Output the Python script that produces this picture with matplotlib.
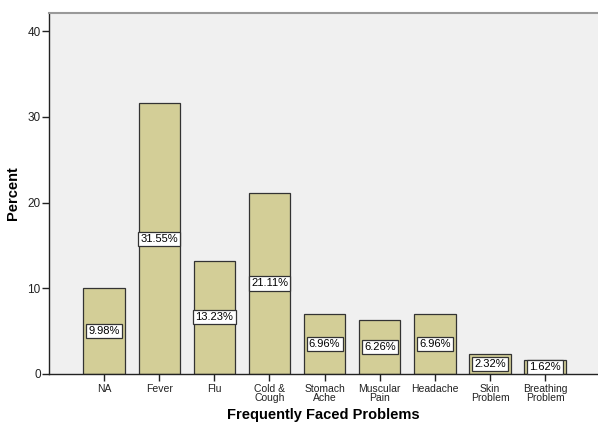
import matplotlib.pyplot as plt

plt.rcParams['font.family'] = ['Liberation Sans', 'DejaVu Sans']

# Share of respondents per problem
problems = ['NA', 'Fever', 'Flu', 'Cold &\nCough', 'Stomach\nAche', 'Muscular\nPain',
            'Headache', 'Skin\nProblem', 'Breathing\nProblem']
percent = [9.98, 31.55, 13.23, 21.11, 6.96, 6.26, 6.96, 2.32, 1.62]
y_ticks = [0, 10, 20, 30, 40]

fig = plt.figure(figsize=(5.98, 4.25), dpi=100)
ax = fig.add_axes([49 / 598, 51 / 425, 1 - 49 / 598, 361 / 425])
ax.set_facecolor('#f0f0f0')

x = list(range(len(problems)))
ax.bar(x, percent, width=0.75, color='#d3ce97', edgecolor='#333333', linewidth=0.9, zorder=2)

# value labels sit at half the bar height
for xi, v in zip(x, percent):
    ax.text(xi, v / 2, f'{v:.2f}%', ha='center', va='center', fontsize=8, zorder=3,
            bbox=dict(boxstyle='square,pad=0.2', facecolor='white', edgecolor='#333333', linewidth=0.9))

ax.set_xlim(-1.0, 8.96)
ax.set_ylim(0, 42.1)
ax.set_xticks(x)
ax.set_xticklabels(problems, fontsize=7.5, linespacing=0.9)
ax.set_yticks(y_ticks)
ax.tick_params(axis='y', labelsize=8.5, length=5, width=1, pad=1, colors='#222222')
ax.tick_params(axis='x', length=5, width=1, pad=2, colors='#222222')

for side in ['left', 'bottom']:
    ax.spines[side].set_color('#222222')
    ax.spines[side].set_linewidth(1)
ax.spines['top'].set_color('#999999')
ax.spines['top'].set_linewidth(1.5)
ax.spines['right'].set_visible(False)

ax.set_ylabel('Percent', fontsize=10.5, fontweight='bold', labelpad=5)
ax.set_xlabel('Frequently Faced Problems', fontsize=10.5, fontweight='bold', labelpad=4)

fig.savefig('out.png', dpi=100)
